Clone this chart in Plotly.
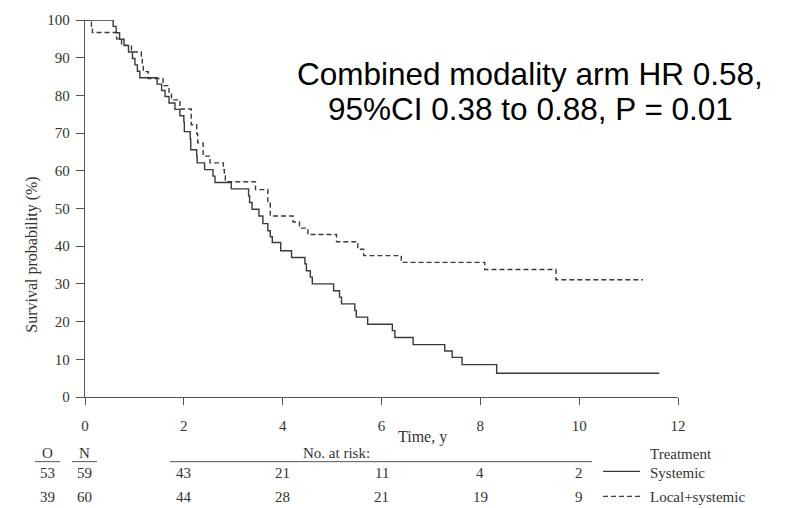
import plotly.graph_objects as go

# Kaplan-Meier step data (time in years, survival in %)
sys_time = [0, 0.57, 0.63, 0.70, 0.79, 0.88, 0.96, 1.01, 1.06, 1.11, 1.46, 1.55, 1.62,
            1.70, 1.82, 1.92, 2.00, 2.01, 2.13, 2.14, 2.26, 2.27, 2.42, 2.59, 2.63, 2.96,
            3.31, 3.33, 3.38, 3.52, 3.60, 3.70, 3.75, 3.79, 3.96, 4.18, 4.45, 4.48, 4.56,
            4.60, 5.03, 5.15, 5.19, 5.46, 5.49, 5.72, 6.22, 6.27, 6.64, 7.28, 7.43, 7.63,
            8.33, 11.62]
sys_surv = [100, 98.3, 96.6, 94.9, 93.2, 91.5, 89.8, 88.1, 86.4, 84.7, 83.0, 81.3, 79.7,
            78.0, 76.3, 74.6, 72.9, 70.4, 68.4, 65.6, 63.8, 62.1, 60.3, 58.6, 56.9, 55.2,
            53.4, 51.6, 49.8, 48.0, 46.0, 44.1, 42.5, 41.0, 38.8, 37.0, 35.3, 33.5, 31.8,
            30.0, 28.2, 26.5, 24.7, 22.9, 21.2, 19.3, 17.6, 15.8, 13.9, 12.2, 10.5, 8.6,
            6.3, 6.3]

comb_time = [0, 0.13, 0.15, 0.64, 0.74, 0.94, 1.14, 1.16, 1.18, 1.28, 1.58, 1.70, 1.75,
             1.92, 2.15, 2.26, 2.28, 2.39, 2.53, 2.80, 2.82, 2.84, 3.45, 3.70, 3.75, 4.21,
             4.34, 4.51, 5.09, 5.52, 5.64, 6.40, 8.09, 9.53, 11.29]
comb_surv = [100, 98.3, 96.7, 95.0, 93.3, 91.5, 89.8, 88.0, 86.3, 84.5, 82.6, 80.6, 78.8,
             76.4, 72.2, 69.8, 67.4, 63.9, 62.1, 60.3, 58.7, 57.1, 55.0, 51.5, 48.0, 46.4,
             44.8, 43.1, 41.2, 39.2, 37.5, 35.7, 33.8, 31.1, 31.1]

# Numbers at risk table
risk_times = [2, 4, 6, 8, 10]
risk_sys = [43, 21, 11, 4, 2]
risk_comb = [44, 28, 21, 19, 9]
events = [53, 39]
totals = [59, 60]
group_names = ["Systemic", "Local+systemic"]
hr_lines = ["Combined modality arm HR 0.58,", "95%CI 0.38 to 0.88, P = 0.01"]

SERIF = "Liberation Serif, Times New Roman, serif"
SANS = "Liberation Sans, Arial, sans-serif"
INK = "#333333"
AXIS = "#555555"
CURVE = "#3a3a3a"
DASH = "5px,3px"

fig = go.Figure()
fig.add_trace(go.Scatter(x=sys_time, y=sys_surv, mode="lines", line_shape="hv",
                         line=dict(color=CURVE, width=1.4), cliponaxis=False,
                         name=group_names[0]))
fig.add_trace(go.Scatter(x=comb_time, y=comb_surv, mode="lines", line_shape="hv",
                         line=dict(color=CURVE, width=1.4, dash=DASH), cliponaxis=False,
                         name=group_names[1]))

# plot-area geometry in pixels, used to place the table below the axis
L, R, T, B, W, H = 85, 109, 18, 111, 787, 508
PW, PH = W - L - R, H - T - B


def px_x(p):
    return (p - L) / PW


def px_y(p):
    return (H - B - p) / PH


def label(text, x, y, xref="paper", xanchor="center", size=15, family=SERIF, **kw):
    return dict(text=text, x=x, y=y, xref=xref, yref="paper", xanchor=xanchor,
                yanchor="middle", showarrow=False,
                font=dict(family=family, size=size, color=kw.pop("color", INK)), **kw)


ann = []
shapes = []

# axis titles
ann.append(label("Survival probability (%)", px_x(32), px_y(254), size=16, textangle=-90))
ann.append(label("Time, y", px_x(422), px_y(437), size=16))

# hazard ratio statement, one annotation per line
for line_text, cy in zip(hr_lines, [72, 107]):
    ann.append(label(line_text, px_x(530), px_y(cy), size=31.5, family=SANS,
                     color="black"))

# table header
y_head, y_rule, y_r1, y_r2 = px_y(453), px_y(462), px_y(473), px_y(498)
for head, cx, x0, x1 in [("O", 47.5, 35, 60), ("N", 84.5, 72, 97)]:
    ann.append(label(head, px_x(cx), y_head))
    shapes.append(dict(type="line", xref="paper", yref="paper", x0=px_x(x0), x1=px_x(x1),
                       y0=y_rule, y1=y_rule, line=dict(color=AXIS, width=1)))
ann.append(label("No. at risk:", px_x(336), y_head))
shapes.append(dict(type="line", xref="paper", yref="paper", x0=px_x(170), x1=px_x(592),
                   y0=y_rule, y1=y_rule, line=dict(color=AXIS, width=1)))

for yrow, o, n in zip([y_r1, y_r2], events, totals):
    ann.append(label(str(o), px_x(47.5), yrow))
    ann.append(label(str(n), px_x(84.5), yrow))

for t, a, c in zip(risk_times, risk_sys, risk_comb):
    ann.append(label(str(a), t, y_r1, xref="x"))
    ann.append(label(str(c), t, y_r2, xref="x"))

# treatment key
ann.append(label("Treatment", px_x(648), px_y(454), xanchor="left"))
for yrow, name, dash in zip([y_r1, y_r2], group_names, ["solid", DASH]):
    shapes.append(dict(type="line", xref="paper", yref="paper", x0=px_x(603), x1=px_x(640),
                       y0=yrow + 0.003, y1=yrow + 0.003,
                       line=dict(color=CURVE, width=1.2, dash=dash)))
    ann.append(label(name, px_x(648), yrow, xanchor="left"))

axis_common = dict(showline=True, linecolor=AXIS, linewidth=1.3, ticks="outside",
                   tickcolor=AXIS, tickwidth=1.2, showgrid=False, zeroline=False,
                   tickfont=dict(family=SERIF, size=15, color=INK), fixedrange=True)

fig.update_layout(
    width=W, height=H, autosize=False,
    margin=dict(l=L, r=R, t=T, b=B, pad=0),
    paper_bgcolor="white", plot_bgcolor="white",
    showlegend=False,
    xaxis=dict(range=[0, 12], tickvals=[0, 2, 4, 6, 8, 10, 12], ticklen=7,
               ticklabelstandoff=8, **axis_common),
    yaxis=dict(range=[0, 100], tickvals=list(range(0, 101, 10)), ticklen=8,
               ticklabelstandoff=3, **axis_common),
    annotations=ann,
    shapes=shapes,
)

fig.write_html("out.html")
